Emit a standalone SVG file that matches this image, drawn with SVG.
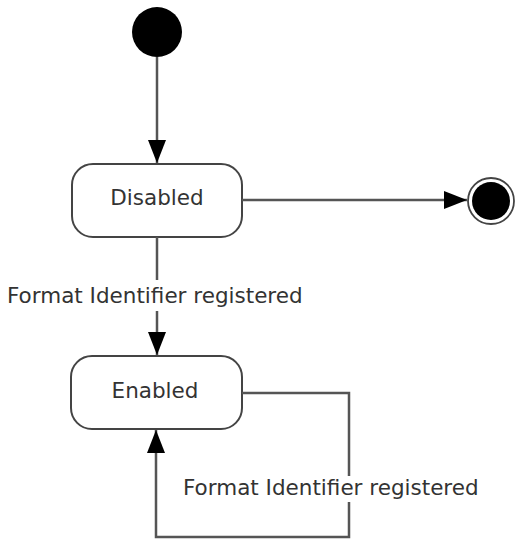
<svg xmlns="http://www.w3.org/2000/svg" width="515" height="540" viewBox="0 0 515 540">
<style>
.st{fill:#fff;stroke:#444;stroke-width:2}
.ln{fill:none;stroke:#555;stroke-width:2.5}
.t{font-family:"DejaVu Sans",Verdana,sans-serif;font-size:21.5px;fill:#333}
</style>
<defs>
<marker id="ah" markerUnits="userSpaceOnUse" markerWidth="24" markerHeight="18" refX="23" refY="9" orient="auto">
<path d="M0,0 L23,9 L0,18 Z" fill="#000"/>
</marker>
</defs>
<g id="initial"><circle cx="157" cy="32" r="25" fill="#000"/></g>
<g id="disabled"><rect class="st" x="72" y="164" width="170" height="73" rx="21"/><text class="t" x="157" y="205" text-anchor="middle">Disabled</text></g>
<g id="final"><circle cx="491" cy="201" r="23" fill="#fff" stroke="#444" stroke-width="1.8"/><circle cx="491" cy="201" r="19" fill="#000"/></g>
<g id="enabled"><rect class="st" x="71" y="356" width="171" height="73" rx="21"/><text class="t" x="155" y="398" text-anchor="middle">Enabled</text></g>
<g id="connectors">
<path class="ln" d="M157,57 V163" marker-end="url(#ah)"/>
<path class="ln" d="M242,200 H467" marker-end="url(#ah)"/>
<path class="ln" d="M157,237 V280"/>
<path class="ln" d="M157,311 V355" marker-end="url(#ah)"/>
<path class="ln" d="M242,393 H349 V476"/>
<path class="ln" d="M349,502 V537 H156 V430" marker-end="url(#ah)"/>
<text class="t" x="7" y="303">Format Identifier registered</text>
<text class="t" x="183" y="495">Format Identifier registered</text>
</g>
</svg>
